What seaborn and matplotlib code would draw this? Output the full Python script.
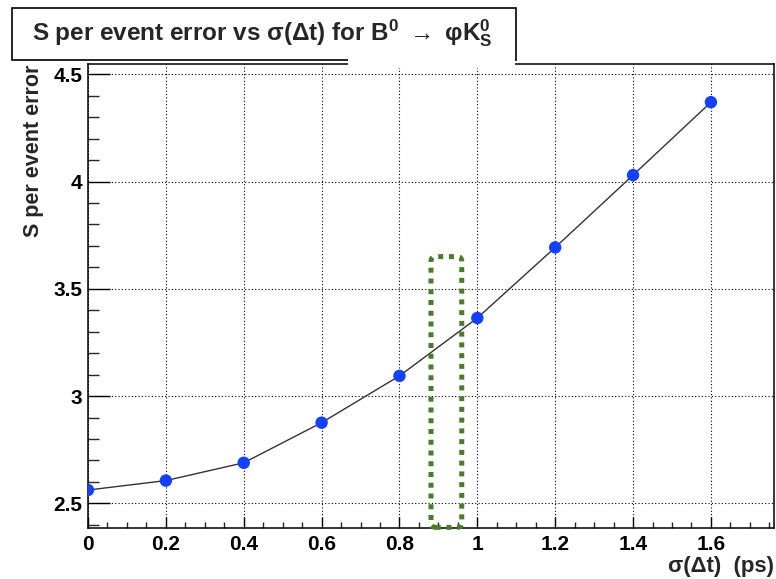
import numpy as np
import pandas as pd
import matplotlib
matplotlib.use("Agg")
import matplotlib.pyplot as plt
from matplotlib.patches import Rectangle, FancyBboxPatch
from matplotlib.ticker import MultipleLocator, FuncFormatter
import seaborn as sns

# ---- data ----
sigma_dt = [0.0, 0.2, 0.4, 0.6, 0.8, 1.0, 1.2, 1.4, 1.6]
s_error = [2.562, 2.606, 2.689, 2.876, 3.094, 3.364, 3.693, 4.030, 4.370]

# highlighted band (annotation box) in data units
band_x = [0.881, 0.960]
band_top = 3.650

title_text = (r"S per event error vs σ(Δt) for $\mathbf{B}^{\mathbf{0}}$ "
              r"$\rightarrow$ φ$\mathbf{K}^{\mathbf{0}}_{\mathbf{S}}$")
ylabel_text = "S per event error"
xlabel_text = "σ(Δt)  (ps)"

sns.set_style("white")
plt.rcParams['font.family'] = ['Liberation Sans', 'DejaVu Sans']
plt.rcParams['font.weight'] = 'bold'
plt.rcParams['mathtext.fontset'] = 'custom'
plt.rcParams['mathtext.rm'] = 'Liberation Sans:bold'
plt.rcParams['mathtext.bf'] = 'Liberation Sans:bold'
plt.rcParams['mathtext.it'] = 'Liberation Sans:bold'

W, H = 776, 579
fig = plt.figure(figsize=(W / 100, H / 100), dpi=100)
ax = fig.add_axes([88 / W, (H - 528) / H, 686 / W, 464 / H])

df = pd.DataFrame({"x": sigma_dt, "y": s_error})
sns.lineplot(data=df, x="x", y="y", ax=ax, color="#333333", linewidth=1.0,
             zorder=3)
sns.scatterplot(data=df, x="x", y="y", ax=ax, color="#1440ff", s=80,
                edgecolor="none", zorder=4)

ax.set_xlim(0, 1.762)
ax.set_ylim(2.385, 4.548)

ax.xaxis.set_major_locator(MultipleLocator(0.2))
ax.xaxis.set_minor_locator(MultipleLocator(0.05))
ax.yaxis.set_major_locator(MultipleLocator(0.5))
ax.yaxis.set_minor_locator(MultipleLocator(0.1))
fmt = FuncFormatter(lambda v, p: "%g" % round(v, 3))
ax.xaxis.set_major_formatter(fmt)
ax.yaxis.set_major_formatter(fmt)

ax.grid(True, which="major", color="black", linestyle=(0, (1, 2)),
        linewidth=0.8)
for sp in ax.spines.values():
    sp.set_color("black")
    sp.set_linewidth(1.1)

ax.tick_params(axis="x", which="major", direction="in", length=8, width=1,
               pad=5, labelsize=15, top=False, bottom=True, colors="black")
ax.tick_params(axis="x", which="minor", direction="in", length=4.5, width=1,
               top=False, bottom=True)
ax.tick_params(axis="y", which="major", direction="in", length=16, width=1,
               pad=4, labelsize=15, right=False, left=True, colors="black")
ax.tick_params(axis="y", which="minor", direction="in", length=8, width=1,
               right=False, left=True)
for lab in ax.get_xticklabels() + ax.get_yticklabels():
    lab.set_fontweight("bold")

ax.set_xlabel(xlabel_text, fontsize=16, fontweight="bold", ha="right",
              va="center")
ax.xaxis.set_label_coords(1.0, -0.084)
ax.set_ylabel(ylabel_text, fontsize=15.5, fontweight="bold", ha="right",
              va="center")
ax.yaxis.set_label_coords(-0.080, 0.998)

# green dotted rounded box
y0 = ax.get_ylim()[0] + 0.003
box = FancyBboxPatch((band_x[0], y0), band_x[1] - band_x[0], band_top - y0,
                     boxstyle="round,pad=0,rounding_size=0.012",
                     mutation_aspect=1.82, fill=False, edgecolor="#4a7b2b",
                     linewidth=3.6, linestyle=(0, (1, 1.15)), zorder=5,
                     clip_on=False)
ax.add_patch(box)

# title box
fig.patches.append(Rectangle((12 / W, 1 - 60 / H), 504 / W, 52 / H,
                             transform=fig.transFigure, facecolor="white",
                             edgecolor="black", linewidth=1.2, zorder=5))
fig.patches.append(Rectangle((348 / W, 1 - 68 / H), 167 / W, 11 / H,
                             transform=fig.transFigure, facecolor="white",
                             edgecolor="none", zorder=6))
fig.text(262 / W, 1 - 33 / H, title_text, ha="center", va="center",
         fontsize=17.5, fontweight="bold", zorder=7)

fig.savefig("out.png", dpi=100, facecolor="white")
